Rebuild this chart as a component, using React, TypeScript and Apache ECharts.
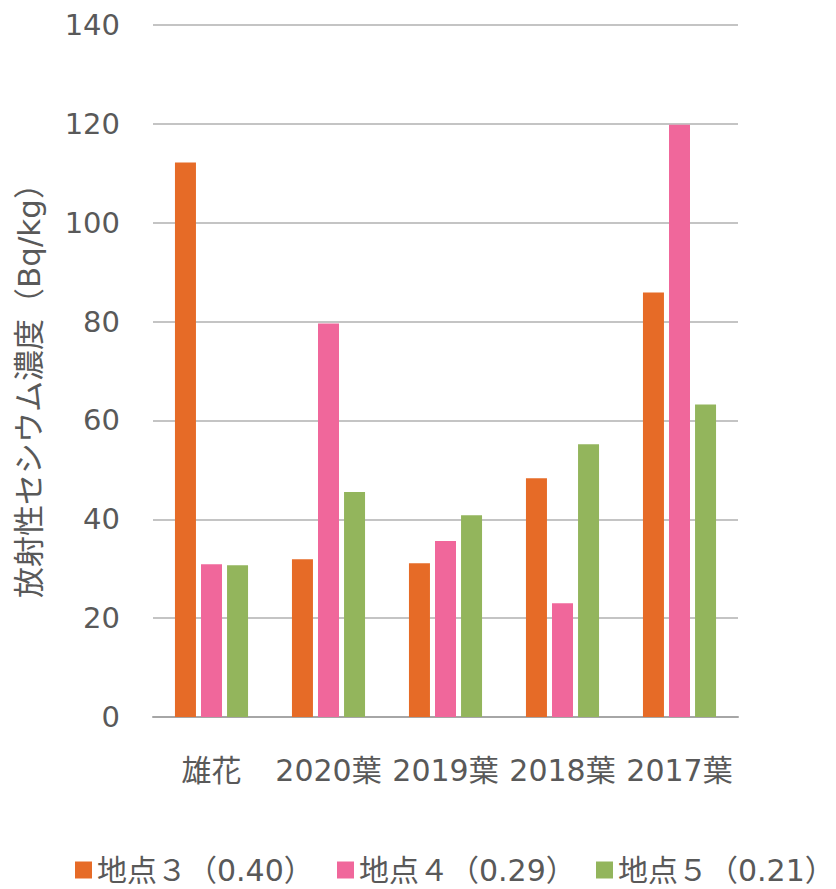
import React, { useEffect, useRef } from "react";
import * as echarts from "echarts";

const categories = ["雄花", "2020葉", "2019葉", "2018葉", "2017葉"];
const seriesNames = ["地点３（0.40）", "地点４（0.29）", "地点５（0.21）"];
const site3 = [112.2, 31.9, 31.1, 48.3, 85.9];
const site4 = [30.9, 79.6, 35.6, 23.0, 119.8];
const site5 = [30.7, 45.5, 40.8, 55.2, 63.2];
const colors = ["#E66B27", "#F0679B", "#93B55C"];

const FONT = "'DejaVu Sans', 'Noto Sans CJK JP', sans-serif";
const legendLefts = [75, 337, 596];

export default function App() {
  const ref = useRef<HTMLDivElement>(null);
  useEffect(() => {
    if (!ref.current) return;
    const chart = echarts.init(ref.current, null, { renderer: "svg" });
    const mk = (name: string, data: number[], color: string) => ({
      name,
      type: "bar",
      data,
      barWidth: 21,
      barGap: "24%",
      itemStyle: { color },
    });
    chart.setOption({
      animation: false,
      textStyle: { fontFamily: FONT, color: "#595959" },
      legend: seriesNames.map((n, i) => ({
        bottom: 4,
        left: legendLefts[i],
        padding: 0,
        itemWidth: 17,
        itemHeight: 17,
        icon: "rect",
        textStyle: { fontFamily: FONT, fontSize: 30, color: "#595959" },
        data: [n],
      })),
      grid: { left: 153, right: 98, top: 25, bottom: 172, containLabel: false },
      xAxis: {
        type: "category",
        data: categories,
        axisLine: { lineStyle: { color: "#A6A6A6", width: 2 } },
        axisTick: { show: false },
        axisLabel: { fontFamily: FONT, fontSize: 30, color: "#595959", margin: 38, interval: 0 },
      },
      yAxis: {
        type: "value",
        min: 0,
        max: 140,
        interval: 20,
        name: "放射性セシウム濃度（Bq/kg）",
        nameLocation: "middle",
        nameGap: 109,
        nameRotate: 90,
        nameTextStyle: { fontFamily: FONT, fontSize: 31, color: "#595959", padding: [0, 24, 0, 0] },
        axisLine: { show: false },
        axisTick: { show: false },
        axisLabel: { fontFamily: FONT, fontSize: 29, color: "#595959", margin: 33 },
        splitLine: { lineStyle: { color: "#B0B0B0", width: 1.5 } },
      },
      series: [
        mk(seriesNames[0], site3, colors[0]),
        mk(seriesNames[1], site4, colors[1]),
        mk(seriesNames[2], site5, colors[2]),
      ],
    });
    return () => chart.dispose();
  }, []);
  return <div ref={ref} style={{ width: 836, height: 889, position: "absolute", left: 0, top: 0 }} />;
}
